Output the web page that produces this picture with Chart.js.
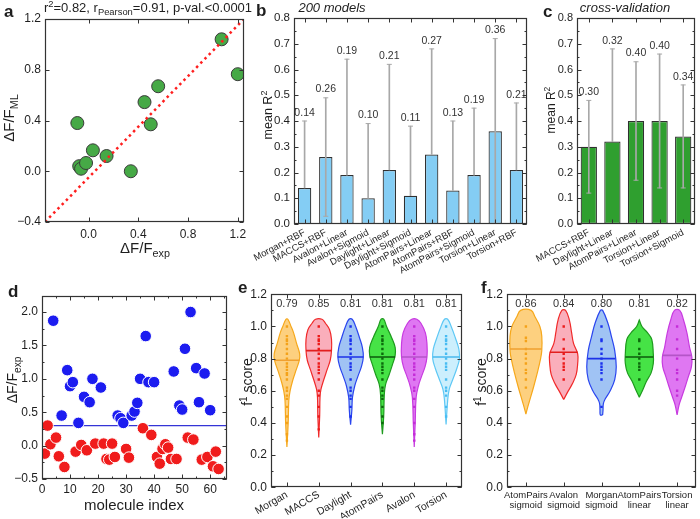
<!DOCTYPE html>
<html>
<head>
<meta charset="utf-8">
<title>Figure</title>
<script src="https://cdn.jsdelivr.net/npm/chart.js"></script>
<style>
  html, body { margin: 0; padding: 0; background: #fff; }
  #fig { position: relative; width: 700px; height: 519px; overflow: hidden; }
  #fig canvas { position: absolute; left: 0; top: 0; }
</style>
</head>
<body>
<div id="fig">
  <canvas id="pb" width="700" height="519"></canvas>
  <canvas id="pc" width="700" height="519"></canvas>
  <canvas id="pd" width="700" height="519"></canvas>
  <canvas id="pe" width="700" height="519"></canvas>
  <canvas id="pf" width="700" height="519"></canvas>
  <canvas id="pa" width="700" height="519"></canvas>
</div>
<script>
// ---- a: ML vs experiment
const aExp = [-0.09, 0.035, -0.075, -0.06, -0.02, 0.145, 0.34, 0.45, 0.50, 0.56, 1.07, 1.20];
const aML = [0.38, 0.165, 0.04, 0.02, 0.065, 0.12, 0.0, 0.545, 0.37, 0.67, 1.04, 0.765];
const aDiagX = [-0.35, 1.25];
const aDiagY = [-0.4, 1.2];
const aXTicks = [0, 0.4, 0.8, 1.2];
const aYTicks = [-0.4, 0, 0.4, 0.8, 1.2];

// ---- b: 200 models
const bNames = ['Morgan+RBF', 'MACCS+RBF', 'Avalon+Linear', 'Avalon+Sigmoid', 'Daylight+Linear',
  'Daylight+Sigmoid', 'AtomPairs+Linear', 'AtomPairs+RBF', 'AtomPairs+Sigmoid', 'Torsion+Linear', 'Torsion+RBF'];
const bMean = [0.14, 0.26, 0.19, 0.10, 0.21, 0.11, 0.27, 0.13, 0.19, 0.36, 0.21];
const bErr = [0.26, 0.23, 0.45, 0.29, 0.41, 0.27, 0.41, 0.27, 0.26, 0.36, 0.26];
const r2Ticks = [0, 0.1, 0.2, 0.3, 0.4, 0.5, 0.6, 0.7, 0.8];

// ---- c: cross-validation
const cNames = ['MACCS+RBF', 'Daylight+Linear', 'AtomPairs+Linear', 'Torsion+Linear', 'Torsion+Sigmoid'];
const cMean = [0.30, 0.32, 0.40, 0.40, 0.34];
const cErr = [0.18, 0.36, 0.23, 0.26, 0.20];

// ---- d: molecules above / below threshold
const dBlueX = [4, 7, 9, 10, 11, 13, 15, 17, 18, 21, 27, 28, 29, 32, 33, 34, 35, 37, 38, 40, 47, 49, 50, 51, 53, 55, 56, 58, 60];
const dBlueY = [1.87, 0.45, 1.13, 0.89, 0.95, 0.34, 0.73, 0.65, 1.0, 0.87, 0.45, 0.41, 0.34, 0.45, 0.51, 0.64, 1.0,
  1.64, 0.95, 0.95, 1.11, 0.60, 0.54, 1.45, 2.0, 1.16, 0.65, 1.08, 0.53];
const dRedX = [1, 2, 3, 5, 6, 8, 12, 14, 16, 19, 22, 23, 24, 25, 26, 30, 31, 36, 39, 41, 42, 43, 44, 45, 46, 48,
  52, 54, 57, 59, 61, 62, 63];
const dRedY = [-0.12, 0.30, 0.02, 0.12, -0.16, -0.32, -0.09, 0.01, -0.07, 0.03, 0.03, -0.20, -0.21, 0.03, -0.17,
  -0.05, -0.18, 0.26, 0.16, -0.17, -0.27, -0.05, 0.02, -0.03, -0.20, -0.20, 0.12, 0.09, -0.21, -0.17, -0.31, -0.09, -0.35];
const dThreshold = 0.3;
const dXMin = 0, dXMax = 66;
const dXTicks = [0, 10, 20, 30, 40, 50, 60];
const dYTicks = [-0.5, 0, 0.5, 1.0, 1.5, 2.0];

// ---- e: f1 score per fingerprint
const eNames = ['Morgan', 'MACCS', 'Daylight', 'AtomPairs', 'Avalon', 'Torsion'];
const eMed = [0.79, 0.85, 0.81, 0.81, 0.81, 0.81];
const eMedW = [0.39, 0.40, 0.40, 0.40, 0.40, 0.42];
const eVioY = [
  [0.25, 0.40, 0.54, 0.60, 0.67, 0.73, 0.79, 0.83, 0.89, 0.96, 1.00, 1.045],
  [0.31, 0.45, 0.56, 0.61, 0.67, 0.73, 0.79, 0.85, 0.92, 0.98, 1.02, 1.045],
  [0.39, 0.48, 0.56, 0.63, 0.69, 0.75, 0.81, 0.87, 0.93, 1.00, 1.045],
  [0.33, 0.44, 0.58, 0.64, 0.70, 0.76, 0.82, 0.87, 0.93, 1.00, 1.045],
  [0.25, 0.40, 0.56, 0.63, 0.69, 0.75, 0.81, 0.89, 0.96, 1.02, 1.045],
  [0.39, 0.54, 0.61, 0.67, 0.74, 0.80, 0.86, 0.93, 1.00, 1.045]
];
const eVioW = [
  [0, 0.04, 0.06, 0.10, 0.19, 0.29, 0.39, 0.40, 0.31, 0.21, 0.13, 0.03],
  [0, 0.03, 0.04, 0.07, 0.16, 0.26, 0.36, 0.40, 0.40, 0.34, 0.21, 0.10],
  [0, 0.04, 0.06, 0.13, 0.23, 0.34, 0.40, 0.37, 0.28, 0.16, 0.05],
  [0, 0.04, 0.06, 0.10, 0.21, 0.31, 0.40, 0.40, 0.29, 0.13, 0.04],
  [0, 0.03, 0.06, 0.13, 0.23, 0.34, 0.40, 0.40, 0.35, 0.21, 0.08],
  [0, 0.05, 0.10, 0.21, 0.34, 0.42, 0.40, 0.29, 0.16, 0.05]
];
const eDots = [
  [1.0, 0.94, 0.92, 0.91, 0.89, 0.86, 0.83, 0.8, 0.77, 0.75, 0.73, 0.71, 0.7, 0.67, 0.62, 0.6, 0.57, 0.55, 0.5, 0.44, 0.4, 0.33, 0.29],
  [1.0, 0.94, 0.92, 0.91, 0.89, 0.86, 0.83, 0.8, 0.77, 0.75, 0.73, 0.71, 0.67, 0.6, 0.57, 0.5, 0.44, 0.36],
  [1.0, 0.94, 0.92, 0.91, 0.89, 0.86, 0.83, 0.8, 0.77, 0.75, 0.73, 0.67, 0.62, 0.6, 0.57, 0.55, 0.5, 0.44],
  [1.0, 0.94, 0.92, 0.91, 0.89, 0.86, 0.83, 0.8, 0.77, 0.75, 0.73, 0.71, 0.67, 0.62, 0.6, 0.57, 0.55, 0.5, 0.44, 0.4],
  [1.0, 0.94, 0.92, 0.91, 0.89, 0.86, 0.83, 0.8, 0.77, 0.75, 0.73, 0.7, 0.67, 0.62, 0.6, 0.55, 0.5, 0.4, 0.33, 0.29],
  [1.0, 0.94, 0.92, 0.91, 0.89, 0.86, 0.83, 0.8, 0.77, 0.75, 0.73, 0.67, 0.62, 0.6, 0.57, 0.5, 0.44]
];
const f1Ticks = [0, 0.2, 0.4, 0.6, 0.8, 1.0, 1.2];

// ---- f: f1 score for best fingerprint + kernel
const fNames = [['AtomPairs', 'sigmoid'], ['Avalon', 'sigmoid'], ['Morgan', 'sigmoid'], ['AtomPairs', 'linear'], ['Torsion', 'linear']];
const fMed = [0.86, 0.84, 0.80, 0.81, 0.82];
const fMedW = [0.42, 0.37, 0.37, 0.37, 0.38];
const fVioY = [
  [0.455, 0.50, 0.54, 0.63, 0.71, 0.79, 0.85, 0.94, 1.00, 1.06, 1.10],
  [0.546, 0.59, 0.64, 0.70, 0.77, 0.83, 0.895, 0.96, 1.04, 1.10],
  [0.45, 0.48, 0.52, 0.55, 0.60, 0.67, 0.75, 0.85, 0.94, 1.02, 1.10],
  [0.56, 0.605, 0.66, 0.71, 0.77, 0.83, 0.92, 0.96, 1.00, 1.04],
  [0.45, 0.51, 0.56, 0.63, 0.69, 0.75, 0.81, 0.87, 0.96, 1.04, 1.10]
];
const fVioW = [
  [0, 0.05, 0.10, 0.21, 0.30, 0.38, 0.42, 0.42, 0.37, 0.24, 0.14],
  [0, 0.10, 0.22, 0.33, 0.37, 0.37, 0.26, 0.21, 0.15, 0.05],
  [0.03, 0.04, 0.05, 0.10, 0.23, 0.35, 0.39, 0.35, 0.26, 0.17, 0.03],
  [0, 0.09, 0.19, 0.31, 0.37, 0.37, 0.33, 0.22, 0.07, 0],
  [0, 0.05, 0.12, 0.22, 0.30, 0.38, 0.39, 0.33, 0.26, 0.17, 0.07]
];
const fDots = [
  [1.0, 0.93, 0.91, 0.86, 0.83, 0.8, 0.77, 0.73, 0.71, 0.67, 0.62],
  [1.0, 0.92, 0.86, 0.83, 0.8, 0.77, 0.75, 0.73, 0.67],
  [1.0, 0.92, 0.91, 0.86, 0.83, 0.8, 0.77, 0.75, 0.73, 0.71, 0.67, 0.5],
  [0.92, 0.91, 0.86, 0.83, 0.8, 0.77, 0.75, 0.73, 0.67],
  [1.0, 0.92, 0.86, 0.8, 0.73, 0.71, 0.67, 0.6, 0.57]
];

// colours of the violins (same order in e and f)
const vFill = ['rgba(253,200,105,0.85)', 'rgba(249,165,180,0.9)', 'rgba(155,192,243,0.95)',
  'rgba(60,226,60,0.95)', 'rgba(221,112,241,0.95)', 'rgba(201,238,253,0.95)'];
const vLine = ['#f6a81c', '#f02a2a', '#2a45ef', '#1e9a1e', '#c83ce0', '#5ec8f5'];
const vDot = ['#f4a21a', '#ec1a1a', '#1a30ee', '#0c6a0c', '#c42cd8', '#48bcf2'];
const vMed = ['#f0a030', '#e21e1e', '#1c32e8', '#0c5a0c', '#b455c8', '#48b8ee'];

const W = 700, H = 519;
const FONT = '"Liberation Sans", Arial, Helvetica, sans-serif';
const INK = '#1e1e1e';
Chart.defaults.font.family = FONT;
Chart.defaults.color = INK;

// place the plot box exactly: left/top/right/bottom of chart area, y-axis width, x-axis height
function area(l, t, r, b, yw, xh) {
  return { padding: { left: l - yw, top: t, right: W - r, bottom: H - b - xh } };
}
const fitY = w => s => { s.width = w; s.paddingTop = 0; s.paddingBottom = 0; };
const fitX = h => s => { s.height = h; s.paddingLeft = 0; s.paddingRight = 0; };
const num = d => v => (v < -1e-9 ? '\u2212' : '') + Math.abs(v).toFixed(d);

function linAxis(min, max, tickVals, fmt, size, pad, fit, more = {}) {
  return {
    type: 'linear', min, max,
    afterBuildTicks: s => { s.ticks = tickVals.map(value => ({ value })); },
    ticks: Object.assign({ includeBounds: false, callback: fmt, font: { size },
      padding: pad, color: INK, autoSkip: false, minRotation: 0, maxRotation: 0 }, more),
    grid: { display: false, drawTicks: false },
    border: { display: false },
    afterFit: fit
  };
}
function catAxis(size, rot, pad, h) {
  return {
    type: 'category',
    ticks: { font: { size }, minRotation: rot, maxRotation: rot, autoSkip: false, padding: pad, color: INK },
    grid: { display: false, drawTicks: false },
    border: { display: false },
    afterFit: fitX(h)
  };
}

// box around the plot with inward ticks on all four sides
function framePlugin(xMinor, yMinor) {
  return {
    id: 'frame',
    afterDatasetsDraw(chart) {
      const { ctx, chartArea: c, scales: { x, y } } = chart;
      const L = Math.round(c.left) + 0.5, R = Math.round(c.right) - 0.5;
      const T = Math.round(c.top) + 0.5, B = Math.round(c.bottom) - 0.5;
      const seg = (x1, y1, x2, y2) => { ctx.moveTo(x1, y1); ctx.lineTo(x2, y2); };
      ctx.save();
      ctx.strokeStyle = '#333';
      ctx.lineWidth = 1;
      ctx.beginPath();
      x.ticks.forEach((t, i) => {
        const px = Math.round(x.getPixelForTick(i)) + 0.5;
        seg(px, B, px, B - 4); seg(px, T, px, T + 4);
      });
      y.ticks.forEach((t, i) => {
        const py = Math.round(y.getPixelForTick(i)) + 0.5;
        seg(L, py, L + 4, py); seg(R, py, R - 4, py);
      });
      if (yMinor) for (let v = y.min; v <= y.max + 1e-9; v += yMinor) {
        const py = Math.round(y.getPixelForValue(v)) + 0.5;
        seg(L, py, L + 2, py); seg(R, py, R - 2, py);
      }
      if (xMinor) for (let v = x.min; v <= x.max + 1e-9; v += xMinor) {
        const px = Math.round(x.getPixelForValue(v)) + 0.5;
        seg(px, B, px, B - 2); seg(px, T, px, T + 2);
      }
      ctx.stroke();
      ctx.lineWidth = 1.2;
      ctx.strokeRect(L, T, R - L, B - T);
      ctx.restore();
    }
  };
}

// x tick text placed with the x scale (used where the axis' own labels are switched off)
function xTextPlugin(values, fmt, size, pad) {
  return {
    id: 'xtext',
    afterDraw(chart) {
      const { ctx, chartArea: c, scales: { x } } = chart;
      ctx.save();
      ctx.font = size + 'px ' + FONT;
      ctx.fillStyle = INK;
      ctx.textAlign = 'center';
      ctx.textBaseline = 'top';
      values.forEach(v => ctx.fillText(fmt(v), x.getPixelForValue(v), c.bottom + pad));
      ctx.restore();
    }
  };
}

// text with sub/superscripts: parts = [text, 0 normal | 1 sub | 2 sup]
function rich(ctx, it) {
  const size = it.size || 12;
  const style = (it.italic ? 'italic ' : '') + (it.bold ? 'bold ' : '');
  const fontOf = k => style + (k ? Math.round(size * 7.2) / 10 : size) + 'px ' + FONT;
  ctx.save();
  ctx.translate(it.x, it.y);
  if (it.rot) ctx.rotate(it.rot);
  let w = 0;
  it.parts.forEach(([t, k]) => { ctx.font = fontOf(k); w += ctx.measureText(t).width; });
  let cx = it.align === 'left' ? 0 : -w / 2;
  ctx.fillStyle = INK;
  ctx.textAlign = 'left';
  ctx.textBaseline = 'alphabetic';
  it.parts.forEach(([t, k]) => {
    ctx.font = fontOf(k);
    ctx.fillText(t, cx, k === 1 ? size * 0.28 : k === 2 ? -size * 0.38 : 0);
    cx += ctx.measureText(t).width;
  });
  ctx.restore();
}
const notesPlugin = items => ({ id: 'notes', afterDraw(chart) { items.forEach(it => rich(chart.ctx, it)); } });

// value labels placed through the chart scales
function labelsPlugin(items, size, dy, base) {
  return {
    id: 'vlabels',
    afterDatasetsDraw(chart) {
      const { ctx, scales: { x, y } } = chart;
      ctx.save();
      ctx.font = size + 'px ' + FONT;
      ctx.fillStyle = '#333';
      ctx.textAlign = 'center';
      ctx.textBaseline = base;
      items.forEach(it => ctx.fillText(it.text, x.getPixelForValue(it.x), y.getPixelForValue(it.y) + dy));
      ctx.restore();
    }
  };
}

const ROT = -Math.PI / 2;
const base = { responsive: false, animation: false, events: [],
  plugins: { legend: { display: false }, tooltip: { enabled: false } } };

// ================= a
new Chart(document.getElementById('pa'), {
  type: 'scatter',
  data: { datasets: [
    { type: 'line', data: aDiagX.map((x, i) => ({ x, y: aDiagY[i] })), borderColor: '#ff1f1f', borderWidth: 2.5,
      borderDash: [2.5, 3.5], pointRadius: 0, fill: false, order: 0 },
    { data: aExp.map((x, i) => ({ x, y: aML[i] })), backgroundColor: '#46a946', borderColor: '#3a3a3a',
      borderWidth: 1, pointRadius: 6.5, order: 1 }
  ] },
  options: { ...base, layout: area(45, 19, 244, 222, 45, 32),
    scales: { x: linAxis(-0.35, 1.25, aXTicks, num(1), 12, 6, fitX(32), { display: false }),
      y: linAxis(-0.4, 1.2, aYTicks, num(1), 12, 4, fitY(45)) } },
  plugins: [framePlugin(0, 0), xTextPlugin(aXTicks, num(1), 12, 7), notesPlugin([
    { x: 4, y: 17, parts: [['a', 0]], size: 17, bold: true, align: 'left' },
    { x: 148, y: 11.5, parts: [['r', 0], ['2', 2], ['=0.82, r', 0], ['Pearson', 1], ['=0.91, p-val.<0.0001', 0]], size: 13 },
    { x: 14, y: 118, rot: ROT, parts: [['\u0394F/F', 0], ['ML', 1]], size: 15 },
    { x: 145, y: 253, parts: [['\u0394F/F', 0], ['exp', 1]], size: 15 }
  ])]
});

// ================= b and c (bars with one-sided error bars)
function barChart(id, names, mean, err, color, rect, notes) {
  const whisk = mean.map((m, i) => [m - err[i] >= 0 ? m - err[i] : m, m + err[i]]);
  const capHi = mean.map((m, i) => m + err[i]);
  const capLo = mean.map((m, i) => (m - err[i] >= 0 ? m - err[i] : null));
  const gray = '#a8a8a8';
  return new Chart(document.getElementById(id), {
    type: 'bar',
    data: { labels: names, datasets: [
      { data: mean, backgroundColor: color, borderColor: '#303030', borderWidth: 1.2, borderSkipped: false,
        barPercentage: rect.bp, categoryPercentage: 1, grouped: false, order: 3 },
      { data: whisk, backgroundColor: gray, barThickness: 1, grouped: false, order: 2 },
      { type: 'line', data: capHi, showLine: false, pointStyle: 'line', pointRadius: 2.5, borderColor: gray,
        pointBorderWidth: 1, order: 1 },
      { type: 'line', data: capLo, showLine: false, pointStyle: 'line', pointRadius: 2.5, borderColor: gray,
        pointBorderWidth: 1, order: 1 }
    ] },
    options: { ...base, layout: area(rect.l, rect.t, rect.r, rect.b, 40, 50),
      scales: { x: catAxis(9.5, 28, 3, 50), y: linAxis(0, 0.8, r2Ticks, num(1), rect.fs, 4, fitY(40)) } },
    plugins: [framePlugin(0, 0.05),
      labelsPlugin(mean.map((m, i) => ({ x: i, y: capHi[i], text: m.toFixed(2) })), 10.5, -3, 'bottom'),
      notesPlugin(notes)]
  });
}
barChart('pb', bNames, bMean, bErr, '#84cdf4', { l: 294, t: 18, r: 527, b: 224, bp: 0.63, fs: 11.5 }, [
  { x: 256, y: 16, parts: [['b', 0]], size: 17, bold: true, align: 'left' },
  { x: 332, y: 12, parts: [['200 models', 0]], size: 13, italic: true },
  { x: 272, y: 115, rot: ROT, parts: [['mean R', 0], ['2', 2]], size: 12.5 }
]);
barChart('pc', cNames, cMean, cErr, '#2f9f2f', { l: 577, t: 18, r: 698, b: 224, bp: 0.69, fs: 11 }, [
  { x: 543, y: 17, parts: [['c', 0]], size: 17, bold: true, align: 'left' },
  { x: 625, y: 12, parts: [['cross-validation', 0]], size: 13, italic: true },
  { x: 555, y: 110, rot: ROT, parts: [['mean R', 0], ['2', 2]], size: 12 }
]);

// ================= d
new Chart(document.getElementById('pd'), {
  type: 'scatter',
  data: { datasets: [
    { data: dBlueX.map((x, i) => ({ x, y: dBlueY[i] })), backgroundColor: '#1c1cf0', borderColor: '#ffffff',
      borderWidth: 1, pointRadius: 5.8, order: 1 },
    { data: dRedX.map((x, i) => ({ x, y: dRedY[i] })), backgroundColor: '#f01c1c', borderColor: '#ffffff',
      borderWidth: 1, pointRadius: 5.8, order: 1 },
    { type: 'line', data: [{ x: dXMin, y: dThreshold }, { x: dXMax, y: dThreshold }], borderColor: '#3434d6',
      borderWidth: 1.2, pointRadius: 0, fill: false, order: 2 }
  ] },
  options: { ...base, layout: area(42, 296, 227, 479, 40, 25),
    scales: { x: linAxis(dXMin, dXMax, dXTicks, num(0), 12, 3, fitX(25)),
      y: linAxis(-0.5, 2.24, dYTicks, num(1), 12, 4, fitY(40)) } },
  plugins: [framePlugin(5, 0.25), notesPlugin([
    { x: 8, y: 297, parts: [['d', 0]], size: 17, bold: true, align: 'left' },
    { x: 17, y: 380, rot: ROT, parts: [['\u0394F/F', 0], ['exp', 1]], size: 14 },
    { x: 134, y: 510, parts: [['molecule index', 0]], size: 15 }
  ])]
});

// ================= e and f (violins)
function violinSets(vy, vw, dots, med, medW) {
  const sets = [];
  vy.forEach((ys, i) => {
    const cx = i + 1;
    const right = ys.map((y, k) => ({ x: cx + vw[i][k], y }));
    const left = ys.map((y, k) => ({ x: cx - vw[i][k], y })).reverse();
    sets.push({ type: 'line', data: right.concat(left, [right[0]]), fill: 'shape', backgroundColor: vFill[i],
      borderColor: vLine[i], borderWidth: 1.2, tension: 0.4, pointRadius: 0, order: 3 });
    sets.push({ type: 'scatter', data: dots[i].map(y => ({ x: cx, y })), pointStyle: 'rect', pointRadius: 1.7,
      backgroundColor: vDot[i], borderWidth: 0, order: 2 });
    sets.push({ type: 'line', data: [{ x: cx - medW[i], y: med[i] }, { x: cx + medW[i], y: med[i] }],
      borderColor: vMed[i], borderWidth: 1.6, pointRadius: 0, fill: false, order: 1 });
  });
  return sets;
}
function violinChart(id, names, vy, vw, dots, med, medW, rect, tick, notes) {
  const xAxis = linAxis(0.5, names.length + 0.5, names.map((nm, i) => i + 1), v => names[Math.round(v) - 1],
    tick.size, tick.pad, fitX(31),
    { minRotation: tick.rot, maxRotation: tick.rot, font: { size: tick.size, lineHeight: 1.05 } });
  return new Chart(document.getElementById(id), {
    type: 'scatter',
    data: { datasets: violinSets(vy, vw, dots, med, medW) },
    options: { ...base, layout: area(rect.l, rect.t, rect.r, rect.b, 40, 31),
      scales: { x: xAxis, y: linAxis(0, 1.2, f1Ticks, num(1), 12, 4, fitY(40)) } },
    plugins: [framePlugin(0, 0.1),
      labelsPlugin(med.map((m, i) => ({ x: i + 1, y: 1.14, text: m.toFixed(2) })), 11, 0, 'middle'),
      notesPlugin(notes)]
  });
}
violinChart('pe', eNames, eVioY, eVioW, eDots, eMed, eMedW, { l: 271, t: 294.3, r: 462, b: 487.3 },
  { size: 10.5, pad: 2, rot: 30 }, [
  { x: 238, y: 293, parts: [['e', 0]], size: 17, bold: true, align: 'left' },
  { x: 252, y: 382, rot: ROT, parts: [['f', 0], ['1', 2], [' score', 0]], size: 14 }
]);
violinChart('pf', fNames, fVioY, fVioW, fDots, fMed, fMedW, { l: 507, t: 294.3, r: 698, b: 487.3 },
  { size: 9.5, pad: 3, rot: 0 }, [
  { x: 481, y: 293, parts: [['f', 0]], size: 17, bold: true, align: 'left' },
  { x: 486, y: 382, rot: ROT, parts: [['f', 0], ['1', 2], [' score', 0]], size: 14 }
]);
</script>
</body>
</html>
